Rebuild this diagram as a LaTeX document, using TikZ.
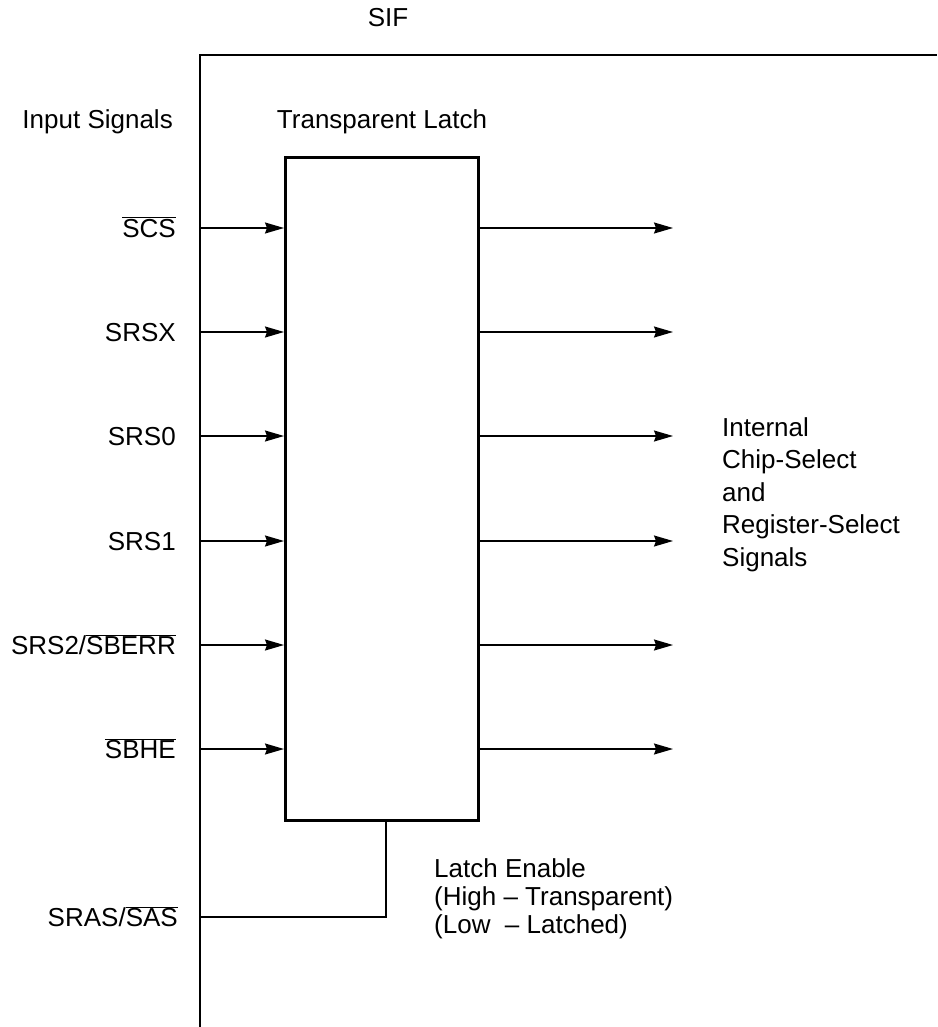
\documentclass[tikz,border=0pt]{standalone}
\usepackage{fontspec}
\setmainfont{Liberation Sans}
\usetikzlibrary{arrows.meta,positioning,calc}
\newcommand{\ovl}[1]{$\overline{\mbox{#1}}$}

\begin{document}
\begin{tikzpicture}[x=1pt, y=-1pt,
      font=\fontsize{26}{31}\selectfont,
      frame/.style={line width=1.5pt},
      latchbox/.style={draw, line width=3pt, inner sep=0pt,
                       minimum width=193pt, minimum height=662pt},
      sig/.style={line width=1.5pt, -{Stealth[length=19pt, width=11pt, inset=2pt]}},
      inlbl/.style={inner sep=0pt, text height=18.5pt, text depth=0pt},
      ttl/.style={inner sep=0pt},
      note/.style={inner sep=0pt, align=left, anchor=north west}]

    %% Geometry: one unit is one pixel of the sheet (937 x 1027), y runs downward.
    \useasboundingbox (0,0) rectangle (937,1027);

    %% ---- the SIF frame: open on the right and at the bottom ----
    \coordinate (fbot) at (200,1027);
    \coordinate (fcorner) at (200,55);
    \coordinate (fright) at (937,55);
    \draw[frame] (fbot) -- (fcorner) -- (fright);
    \node[ttl, anchor=base] (sif) at (388,27) {SIF};
    \node[ttl, anchor=base east] (insig) at (173,129) {Input Signals};

    %% ---- the latch itself; its title hangs off the box ----
    \node[latchbox] (latch) at (382,489) {};
    \node[ttl, above=22pt of latch] (lttl) {Transparent Latch};

    %% ---- one row per input: label, arrow in, arrow out ----
    \foreach \y/\lbl [count=\i] in {228/\ovl{SCS}, 332/SRSX, 436/SRS0, 541/SRS1,
                                   645/{SRS2/\ovl{SBERR}}, 749/\ovl{SBHE}} {
      \coordinate (in\i) at (200,\y);
      \coordinate (out\i) at (673,\y);
      \node[inlbl, left=24pt of in\i] (lbl\i) {\lbl};
      \draw[sig] (in\i) -- (in\i -| latch.west);
      \draw[sig] (in\i -| latch.east) -- (out\i);
    }

    \node[note, font=\fontsize{26}{32.5}\selectfont] (outtxt) at (722,417)
      {Internal\\Chip-Select\\and\\Register-Select\\Signals};

    %% ---- latch enable: from SRAS/SAS up into the bottom of the box ----
    \coordinate (sras) at (200,917);
    \node[inlbl, left=22pt of sras] (lblsras) {SRAS/\ovl{SAS}};
    \draw[frame] (sras) -| ([xshift=4pt]latch.south);
    \node[note, font=\fontsize{26}{28}\selectfont] (letxt) at (434,858)
      {Latch Enable\\(High -- Transparent)\\(Low~~-- Latched)};
  \end{tikzpicture}
\end{document}
